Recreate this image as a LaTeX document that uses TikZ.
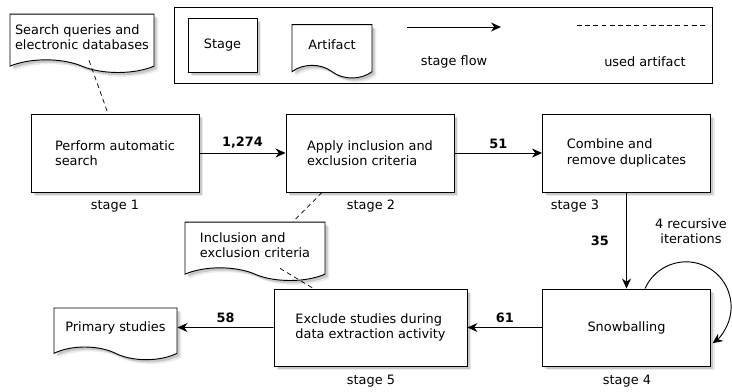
\documentclass[tikz,border=0pt]{standalone}
\usepackage{fontspec}
\setmainfont{DejaVu Sans}
\usetikzlibrary{shapes.symbols,shadows,arrows.meta,calc}

\tikzset{
  boxshadow/.style={
    drop shadow={shadow xshift=0.13cm, shadow yshift=-0.13cm, fill=black, opacity=0.08},
    drop shadow={shadow xshift=0.08cm, shadow yshift=-0.08cm, fill=black, opacity=0.15}},
  stagebox/.style={draw, fill=white, line width=0.8pt, align=left,
    minimum width=5.04cm, minimum height=2.34cm, boxshadow},
  artifact/.style={shape=tape, tape bend top=none, tape bend bottom=out and in,
    tape bend height=0.38cm, draw, fill=white, line width=0.8pt, align=left,
    minimum height=1.75cm, boxshadow},
  legendbox/.style={draw, fill=white, line width=0.8pt,
    minimum width=16.14cm, minimum height=2.28cm},
  flow/.style={-{Stealth[length=0.3cm,width=0.27cm]}, line width=0.8pt},
  usedline/.style={dash pattern=on 4pt off 3pt, line width=0.6pt},
  count/.style={font=\fontsize{11}{13.2}\selectfont\bfseries},
  stagelbl/.style={inner sep=0pt}
}

\begin{document}
\begin{tikzpicture}[x=0.03cm, y=-0.03cm, font=\fontsize{11}{13.2}\selectfont]
\useasboundingbox (0,0) rectangle (732,391);

% legend
\node[legendbox] (legend) at (443,45) {};
\node[stagebox, minimum width=2.07cm, minimum height=1.62cm] (keystage) at (222.5,45) {Stage};
\node[artifact, minimum width=2.4cm, minimum height=1.6cm] (keyart) at (332,45) {Artifact};
\coordinate (flowa) at (407,27);
\coordinate (flowb) at (501,27);
\draw[flow] (flowa) -- (flowb);
\node (keyflow) at (454,62) {stage flow};
\coordinate (useda) at (577,25);
\coordinate (usedb) at (706,25);
\draw[usedline] (useda) -- (usedb);
\node (keyused) at (645,62) {used artifact};

% stages
\node[stagebox] (s1) at (115,153) {Perform automatic\\search};
\node[stagebox] (s2) at (370,153) {Apply inclusion and\\exclusion criteria};
\node[stagebox] (s3) at (626.5,153) {Combine and\\remove duplicates};
\node[stagebox, minimum height=2.31cm] (s4) at (626.5,327.5) {Snowballing};
\node[stagebox, minimum width=5.79cm, minimum height=2.31cm] (s5) at (370.5,327.5) {Exclude studies during\\data extraction activity};

\node[stagelbl] (l1) at (115,206) {stage 1};
\node[stagelbl] (l2) at (371,206) {stage 2};
\node[stagelbl] (l3) at (575,206) {stage 3};
\node[stagelbl] (l4) at (627,381) {stage 4};
\node[stagelbl] (l5) at (371,381) {stage 5};

% artifacts
\node[artifact, minimum width=4.32cm] (queries) at (82,37) {Search queries and\\electronic databases};
\node[artifact, minimum width=4.2cm] (criteria) at (255,245) {Inclusion and\\exclusion criteria};
\node[artifact, minimum width=3.69cm, minimum height=1.55cm] (primary) at (115.5,327.5) {Primary studies};

% flow
\draw[flow] (s1) -- node[count, above] {1,274} (s2);
\draw[flow] (s2) -- node[count, above] {51} (s3);
\draw[flow] (s3) -- node[count, left=0.4cm] {35} (s4);
\draw[flow] (s4) -- node[count, above] {61} (s5);
\draw[flow] (s5) -- node[count, above] {58} (primary);
\draw[flow] ($(s4.north)+(18.5,0)$) arc[start angle=156, end angle=-54, radius=1.35cm];
\node[align=center] (iter) at (691,231) {4 recursive\\iterations};

% used artifacts
\draw[usedline] ($(queries.south)+(7,0)$) -- ($(s1.north)+(-7,0)$);
\draw[usedline] ($(s2.south)+(-48,0)$) -- ($(criteria.north)+(38,0)$);
\draw[usedline] ($(criteria.south)+(25,0)$) -- ($(s5.north)+(-57,0)$);
\end{tikzpicture}
\end{document}
